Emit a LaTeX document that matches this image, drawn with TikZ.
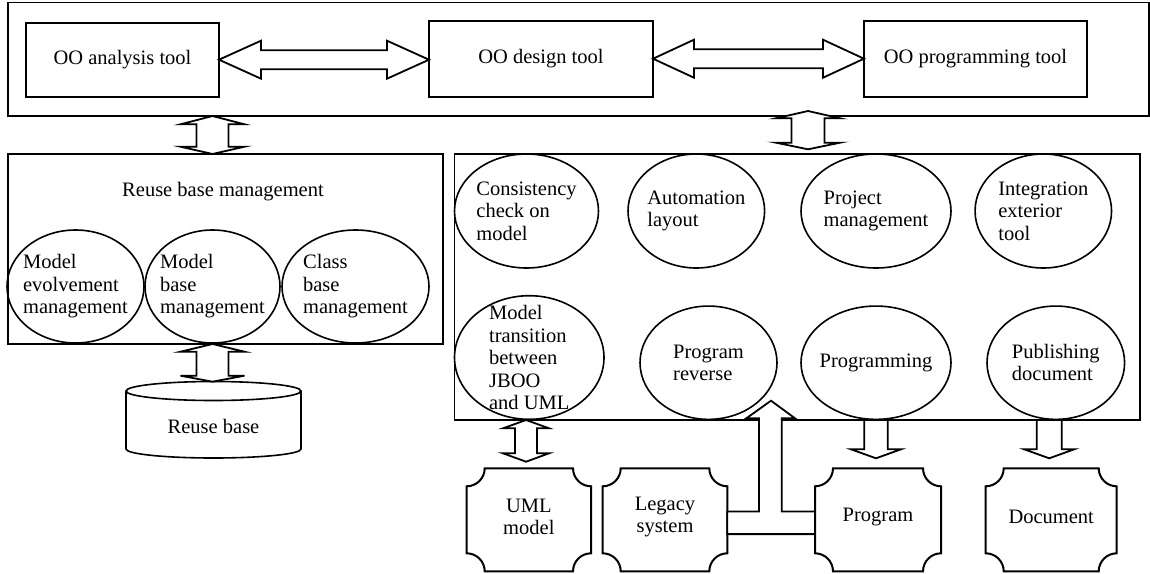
\documentclass[tikz,border=0pt]{standalone}
\usepackage{fontspec}
\setmainfont{Liberation Serif}
\usetikzlibrary{shapes.geometric,calc}

\tikzset{
  frame/.style={draw, line width=1.1pt, inner sep=0pt, outer sep=0pt},
  toolbox/.style={draw, line width=1.8pt, inner sep=0pt, outer sep=0pt},
  oval/.style={draw, ellipse, line width=1.6pt, inner sep=0pt, outer sep=0pt},
  txt/.style={align=left, inner sep=0pt},
  plaquebox/.style={inner sep=0pt, outer sep=0pt, align=center},
  blk/.style={draw, fill=white, line width=1.8pt, line join=miter},
}

% vertical block arrow with two heads: top tip, bottom tip, shaft half-width, head half-width, top head length, bottom head length
\newcommand\vdarrow[6]{%
  \path[blk] let \p1=(#1), \p2=(#2) in
    (\x1,\y1) -- (\x1+#4,\y1-#5) -- (\x1+#3,\y1-#5) -- (\x1+#3,\y2+#6) -- (\x1+#4,\y2+#6)
    -- (\x1,\y2) -- (\x1-#4,\y2+#6) -- (\x1-#3,\y2+#6) -- (\x1-#3,\y1-#5) -- (\x1-#4,\y1-#5) -- cycle;}

% horizontal block arrow with two heads: left tip, right tip, shaft half-width, head half-width, head length
\newcommand\hdarrow[5]{%
  \path[blk] let \p1=(#1), \p2=(#2) in
    (\x1,\y1) -- (\x1+#5,\y1+#4) -- (\x1+#5,\y1+#3) -- (\x2-#5,\y1+#3) -- (\x2-#5,\y1+#4)
    -- (\x2,\y1) -- (\x2-#5,\y1-#4) -- (\x2-#5,\y1-#3) -- (\x1+#5,\y1-#3) -- (\x1+#5,\y1-#4) -- cycle;}

% downward block arrow: tail point, tip point, shaft half-width, head half-width, head length
\newcommand\vsarrow[5]{%
  \path[blk] let \p1=(#1), \p2=(#2) in
    (\x1-#3,\y1) -- (\x1+#3,\y1) -- (\x1+#3,\y2+#5) -- (\x1+#4,\y2+#5)
    -- (\x1,\y2) -- (\x1-#4,\y2+#5) -- (\x1-#3,\y2+#5) -- cycle;}

% plaque outline (concave corners) around a node
\newcommand\plaqueoutline[1]{%
  \draw[line width=2pt, fill=white] let \p1=(#1.north west), \p2=(#1.south east) in
    (\x1,\y1-18pt) .. controls (\x1+9.9pt,\y1-18pt) and (\x1+18pt,\y1-9.9pt) .. (\x1+18pt,\y1)
    -- (\x2-18pt,\y1) .. controls (\x2-18pt,\y1-9.9pt) and (\x2-9.9pt,\y1-18pt) .. (\x2,\y1-18pt)
    -- (\x2,\y2+18pt) .. controls (\x2-9.9pt,\y2+18pt) and (\x2-18pt,\y2+9.9pt) .. (\x2-18pt,\y2)
    -- (\x1+18pt,\y2) .. controls (\x1+18pt,\y2+9.9pt) and (\x1+9.9pt,\y2+18pt) .. (\x1,\y2+18pt)
    -- cycle;}

\begin{document}
\begin{tikzpicture}[x=1pt, y=-1pt, font=\fontsize{20.5}{22.5}\selectfont]
\useasboundingbox (0,0) rectangle (1150,573);
\fill[white] (0,0) rectangle (1150,573);

% ---- tool layer ----
\node[frame, minimum width=1141pt, minimum height=113.3pt] (top) at (578.5,59.35) {};
\node[toolbox, minimum width=193pt, minimum height=74pt] (ana) at (122.5,59.7) {OO analysis tool};
\node[toolbox, minimum width=224pt, minimum height=76pt] (des) at (541,58.7) {OO design tool};
\node[toolbox, minimum width=223pt, minimum height=76pt] (ptool) at (975.5,58.7) {OO programming tool};

% ---- reuse base management ----
\node[frame, minimum width=435pt, minimum height=190pt] (rbm) at (225.5,249) {};
\node[txt] (rbmt) at (223,192) {Reuse base management};
\node[oval, minimum width=137pt, minimum height=113pt] (e1) at (75.5,286.5) {};
\node[oval, minimum width=135pt, minimum height=113pt] (e2) at (212.5,286.5) {};
\node[oval, minimum width=147pt, minimum height=113pt] (e3) at (355.5,286.5) {};
\node[txt] (e1t) at (e1) {Model\\evolvement\\management};
\node[txt] (e2t) at (e2) {Model\\base\\management};
\node[txt] (e3t) at (e3) {Class\\base\\management};

% ---- reuse base store ----
\draw[line width=1.6pt, fill=white] (126,391) -- (126,449) arc(180:0:87.5 and 9) -- (301,391);
\draw[line width=1.6pt] (213.5,391) ellipse (87.5 and 9.5);
\coordinate (cyltop) at (213.5,381.7);
\node[txt] (rb) at (213.5,426) {Reuse base};

% ---- tool services ----
\node[frame, minimum width=685.5pt, minimum height=266pt] (tb) at (797.25,287) {};
\node[oval, minimum width=144pt, minimum height=114pt] (c1) at (526.5,211) {};
\node[oval, minimum width=136.6pt, minimum height=114pt] (c2) at (696.3,211) {};
\node[oval, minimum width=150pt, minimum height=114pt] (c3) at (876,211) {};
\node[oval, minimum width=136.5pt, minimum height=114pt] (c4) at (1043.3,211) {};
\node[oval, minimum width=149.5pt, minimum height=123.6pt] (c5) at (529.25,357.5) {};
\node[oval, minimum width=137pt, minimum height=113.3pt] (c6) at (708.5,362.7) {};
\node[oval, minimum width=150pt, minimum height=113.3pt] (c7) at (876,362.7) {};
\node[oval, minimum width=137.6pt, minimum height=113.3pt] (c8) at (1055.8,362.7) {};
\node[txt] (c1t) at (c1) {Consistency\\check on\\model};
\node[txt] (c2t) at (c2) {Automation\\layout};
\node[txt] (c3t) at (c3) {Project\\management};
\node[txt] (c4t) at (c4) {Integration\\exterior\\tool};
\node[txt] (c5t) at (c5) {Model\\transition\\between\\JBOO\\and UML};
\node[txt] (c6t) at (c6) {Program\\reverse};
\node[txt] (c7t) at (c7) {Programming};
\node[txt] (c8t) at (c8) {Publishing\\document};

% ---- artefacts ----
\node[plaquebox, minimum width=124.3pt, minimum height=103pt] (uml) at (528.85,519.8) {};
\node[plaquebox, minimum width=124.6pt, minimum height=103pt] (leg) at (665,519.8) {};
\node[plaquebox, minimum width=126pt, minimum height=103pt] (prgm) at (878,519.8) {};
\node[plaquebox, minimum width=131pt, minimum height=103pt] (doc) at (1051.2,519.8) {};
\plaqueoutline{uml}
\plaqueoutline{leg}
\plaqueoutline{prgm}
\plaqueoutline{doc}
\node[align=center, inner sep=0pt] (umlt) at (528.85,517) {UML\\model};
\node[align=center, inner sep=0pt] (legt) at (665,517) {Legacy\\system};
\node[align=center, inner sep=0pt] (prgmt) at (878,517) {Program};
\node[align=center, inner sep=0pt] (doct) at (1051.2,517) {Document};

% ---- connectors ----
\hdarrow{ana.east}{des.west}{9.5pt}{19pt}{42pt}
\hdarrow{des.east}{ptool.west}{9.5pt}{19pt}{41pt}

\vdarrow{top.south -| e2.center}{rbm.north -| e2.center}{16pt}{32pt}{8.3pt}{7.3pt}
\vdarrow{rbm.south -| e2.center}{cyltop}{16pt}{32pt}{7.7pt}{6pt}

\coordinate (rcol) at (808,0);
\path (top.south -| rcol) ++(0,-5) coordinate (ra);
\path (tb.north -| rcol) ++(0,-4.7) coordinate (rbt);
\vdarrow{ra}{rbt}{16.5pt}{32pt}{7.3pt}{6.6pt}

\path (uml.north) ++(-2.8,-6.6) coordinate (umltip);
\vdarrow{tb.south -| umltip}{umltip}{11pt}{23pt}{8.3pt}{8.4pt}

\path (prgm.north -| c7) ++(0,-10) coordinate (prgtip);
\vsarrow{tb.south -| c7}{prgtip}{11.7pt}{25pt}{9pt}
\path (doc.north) ++(-2,-10) coordinate (doctip);
\vsarrow{tb.south -| doctip}{doctip}{12.5pt}{25pt}{9pt}

% legacy system and program feed the reverse engineering service
\path[blk] let \p1=(leg.east), \p2=(prgm.west), \p3=(tb.south) in
  (\x1,\y1+8.3pt) -- (\x1+31.7pt,\y1+8.3pt) -- (\x1+31.7pt,\y3+1.7pt) -- (\x1+19pt,\y3+1.7pt)
  -- (\x1+43.7pt,\y3+19.3pt) -- (\x1+67.7pt,\y3+1.7pt) -- (\x1+54.4pt,\y3+1.7pt)
  -- (\x1+54.4pt,\y1+8.3pt) -- (\x2,\y1+8.3pt) -- (\x2,\y1-14.3pt) -- (\x1,\y1-14.3pt) -- cycle;
\end{tikzpicture}
\end{document}
